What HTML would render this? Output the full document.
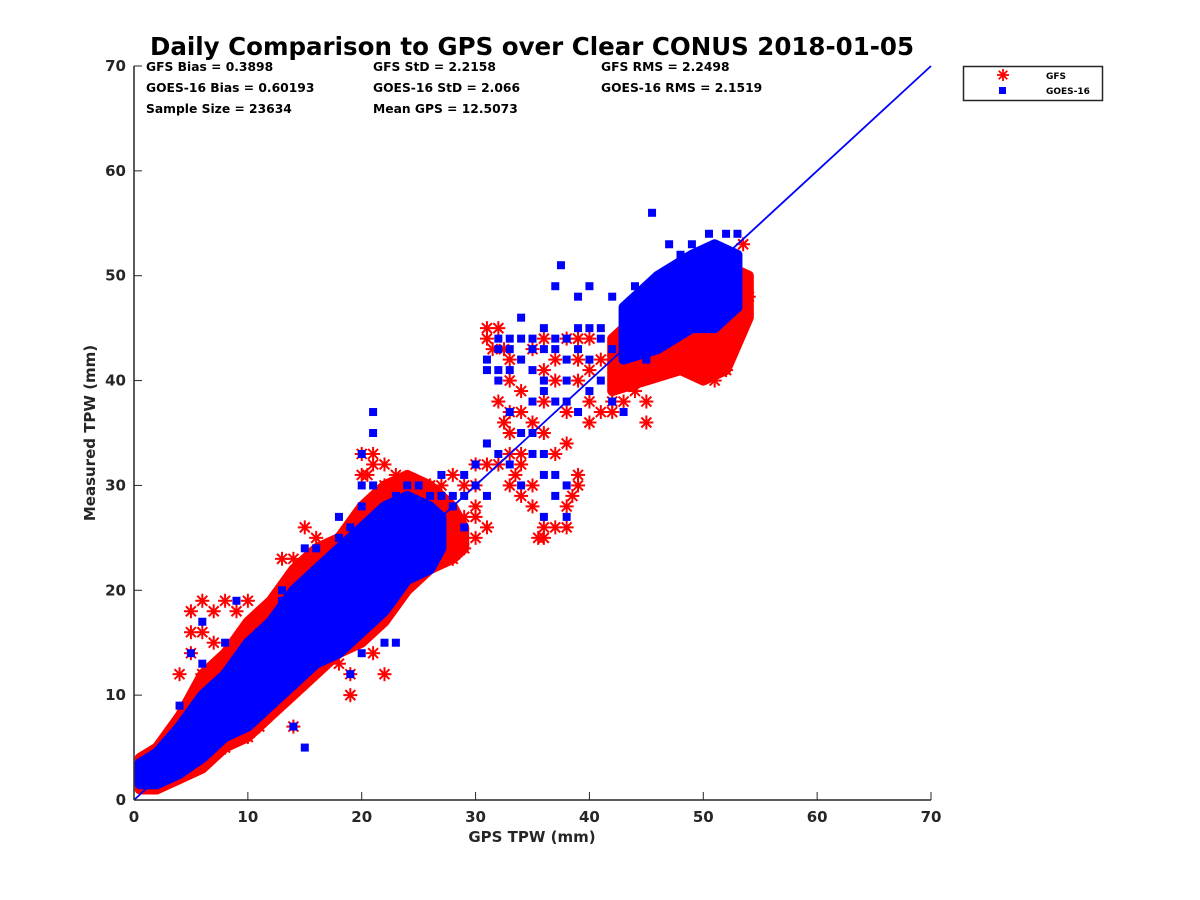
<!DOCTYPE html>
<html><head><meta charset="utf-8"><style>
html,body{margin:0;padding:0;background:#fff;}
svg{display:block;font-family:"DejaVu Sans","Liberation Sans",sans-serif;font-weight:bold;}
</style></head><body>
<svg id="chart" width="1200" height="900" viewBox="0 0 1200 900">
<text x="532" y="55" text-anchor="middle" font-size="24.5" fill="#000">Daily Comparison to GPS over Clear CONUS 2018-01-05</text>
<g id="plot"></g>
<g id="axes"></g>
<g font-size="12.3" fill="#000">
<text x="146" y="71">GFS Bias = 0.3898</text>
<text x="146" y="92">GOES-16 Bias = 0.60193</text>
<text x="146" y="113">Sample Size = 23634</text>
<text x="373" y="71">GFS StD = 2.2158</text>
<text x="373" y="92">GOES-16 StD = 2.066</text>
<text x="373" y="113">Mean GPS = 12.5073</text>
<text x="601" y="71">GFS RMS = 2.2498</text>
<text x="601" y="92">GOES-16 RMS = 2.1519</text>
</g>
<g>
<rect x="963.5" y="66.5" width="139" height="34" fill="#fff" stroke="#262626" stroke-width="1.5"/>
<g>
<g stroke="#f00" stroke-width="1.8" transform="translate(1003,75)"><line x1="-6" y1="0" x2="6" y2="0"/><line x1="0" y1="-6" x2="0" y2="6"/><line x1="-4.3" y1="-4.3" x2="4.3" y2="4.3"/><line x1="-4.3" y1="4.3" x2="4.3" y2="-4.3"/></g>
<text x="1046" y="79" font-size="9">GFS</text></g>
<g>
<rect x="999" y="87" width="7" height="7" fill="#00f"/>
<text x="1046" y="94" font-size="9">GOES-16</text></g>
</g>
</svg>
<script>
const xTicks=[0,10,20,30,40,50,60,70];
const yTicks=[0,10,20,30,40,50,60,70];
const redBand=[[0.5,1,4],[2,1,5],[4,2,8],[6,3,12],[8,5,14],[10,6,17],[12,8,19],[14,10,22],[16,12,24],[18,14,25],[20,15,28],[22,17,30],[24,20,31],[26,22,30],[28,23,28],[29,24,26]];
const blueBand=[[0.5,1.5,3.5],[2,1.5,4.5],[4,2.5,7],[6,4,10],[8,6,12],[10,7,15],[12,9,17],[14,11,20],[16,13,22],[18,14,24],[20,16,26],[22,18,28],[24,21,29],[26,22,28],[27,24,27]];
const redBand2=[[42,39,44],[45,40,47],[48,41,49],[50,40,50],[52,41,51],[54,46,50]];
const blueBand2=[[43,42,47],[46,43,50],[49,45,52],[51,45,53],[53,47,52]];
const gfsPts=[[31,45],[32,45],[31.5,43],[33,40],[33,35],[35,30],[36,25],[37,26],[38,28],[39,30],[38,37],[40,36],[42,38],[44,40],[45,36],[46,42],[48,45],[50,42],[51,40],[52,41],[53,45],[54,48],[53,50],[50,48],[48,48],[46,46],[44,45],[42,42],[40,41],[37,40],[36,44],[34,39],[33,37],[30,30],[31,26],[29,27],[27,27],[28,23],[35,43],[36,38],[38,34],[39,40],[41,42],[43,44],[47,47],[49,44],[51,44],[52,42],[53.5,53],[52,50],[50,50],[45,44],[38,44],[34,32],[32,32],[30,28],[26,26],[24,23],[22,32],[21,33],[20.5,31],[20,33],[15,26],[14,23],[13,23],[5,18],[6,19],[8,19],[9,18],[10,19],[12,18],[18,24],[22,12],[21,14],[19,12],[18,13],[17,15],[19,10],[14,7],[11,7],[8,5],[10,6],[30,27],[33,33],[12,12],[15,19],[25,28],[27,30],[29,30],[23,25],[26,30],[31,32],[4,12],[5,14],[6,10],[35.5,25],[50,41],[51.5,43],
[31,44],[32.5,43],[33,42],[32,38],[32.5,36],[33.5,31],[34,29],[35,28],[36,26],[38,26],[38.5,29],[39,31],[37,33],[36,35],[35,36],[34,37],[36,41],[37,42],[39,42],[40,38],[41,37],[42,37],[43,38],[44,39],[45,38],[46,41],[47,43],[49,43],[51,42],[52,44],[53,44],[53,48],[52,47],[50,46],[49,49],[47,49],[44,42],[40,44],[39,44],[30,25],[29,24],[27,25],[25,26],[24,29],[23,31],[22,30],[20,31],[21,32],[18,19],[17,19],[16,18],[20,21],[21,20],[15,16],[13,14],[11,12],[9,12],[7,15],[6,16],[5,16],[7,18],[16,25],[6,12],[30,32],[28,31],[33,30],[34,33]];
const goesPts=[[45.5,56],[50.5,54],[52,54],[53,54],[47,53],[48,52],[49,53],[51,52],[50,50],[48,50],[46,49],[44,49],[42,48],[43,46],[41,45],[44,47],[39,45],[38,44],[37,44],[36,45],[35,43],[33,44],[32,44],[34,46],[37.5,51],[37,49],[40,49],[39,48],[31,42],[32,41],[33,37],[34,35],[35,38],[36,40],[38,40],[40,42],[41,40],[42,38],[43,37],[45,42],[47,45],[49,47],[51,46],[53,47],[52,49],[50,46],[48,47],[46,47],[44,44],[35,33],[36,31],[37,29],[38,27],[36,27],[34,30],[31,34],[30,32],[29,31],[27,31],[28,29],[29,26],[25,27],[21,37],[21,35],[20,33],[15,24],[16,24],[20,30],[14,18],[13,19],[11,16],[9,19],[8,15],[6,17],[5,14],[6,13],[4,9],[14,7],[15,5],[19,12],[20,14],[22,15],[22,19],[23,15],[21,23],[12,16],[17,21],[24,26],[26,27],[28,28],[31,29],[3,4],[1,2],[2,3],[18,27],[13,20],
[32,43],[33,43],[34,44],[35,44],[36,43],[37,43],[38,42],[39,43],[40,45],[41,44],[42,43],[43,45],[44,46],[45,45],[46,44],[34,42],[33,41],[32,40],[31,41],[35,41],[36,39],[37,38],[38,38],[39,37],[40,39],[36,33],[35,35],[37,31],[38,30],[33,32],[32,33],[30,30],[29,29],[27,29],[26,29],[25,30],[24,30],[23,29],[22,27],[20,28],[19,26],[18,25],[21,30],[20,25],[22,24],[23,22],[24,22],[19,17],[20,18],[18,17],[16,16],[15,14],[10,10],[9,9],[8,8],[7,7],[12,13],[14,13]];
const NS="http://www.w3.org/2000/svg";
const X0=134,X1=931,Y0=800,Y1=66,MAX=70;
const sx=v=>X0+(X1-X0)*v/MAX, sy=v=>Y0-(Y0-Y1)*v/MAX;
const plot=document.getElementById('plot'), axes=document.getElementById('axes');
function mk(tag,attrs,parent){const e=document.createElementNS(NS,tag);for(const k in attrs)e.setAttribute(k,attrs[k]);parent.appendChild(e);return e;}
function band(arr,color,name){
  const top=arr.map(d=>sx(d[0])+','+sy(d[2]));
  const bot=arr.slice().reverse().map(d=>sx(d[0])+','+sy(d[1]));
  const p=mk('polygon',{points:top.concat(bot).join(' '),fill:color,stroke:color,'stroke-width':10,'stroke-linejoin':'round'},plot);
  
  
}
function star(x,y){
  const g=mk('g',{stroke:'#f00','stroke-width':2,transform:`translate(${sx(x)},${sy(y)})`},plot);
  
  
  mk('line',{x1:-7,y1:0,x2:7,y2:0},g);mk('line',{x1:0,y1:-7,x2:0,y2:7},g);
  mk('line',{x1:-5,y1:-5,x2:5,y2:5},g);mk('line',{x1:-5,y1:5,x2:5,y2:-5},g);
}
band(redBand,'#f00','gfs-dense-cloud');
band(redBand2,'#f00','gfs-upper-cloud');
gfsPts.forEach(d=>star(d[0],d[1]));
band(blueBand,'#00f','goes16-dense-cloud');
band(blueBand2,'#00f','goes16-upper-cloud');
goesPts.forEach(d=>{
  const r=mk('rect',{x:sx(d[0])-4,y:sy(d[1])-4,width:8,height:8,fill:'#00f'},plot);
  
  
});
const one=mk('line',{x1:sx(0),y1:sy(0),x2:sx(70),y2:sy(70),stroke:'#00f','stroke-width':1.8},plot);


const xa=mk('line',{x1:X0,y1:Y0,x2:X1,y2:Y0,stroke:'#262626','stroke-width':1.5},axes);


const ya=mk('line',{x1:X0,y1:Y0,x2:X0,y2:Y1,stroke:'#262626','stroke-width':1.5},axes);


xTicks.forEach(t=>{
  mk('line',{x1:sx(t),y1:Y0,x2:sx(t),y2:Y0-8,stroke:'#262626','stroke-width':1},axes);
  const tx=mk('text',{x:sx(t),y:Y0+22,'text-anchor':'middle','font-size':15,fill:'#262626'},axes);
  tx.textContent=t;
  
  
});
yTicks.forEach(t=>{
  mk('line',{x1:X0,y1:sy(t),x2:X0+8,y2:sy(t),stroke:'#262626','stroke-width':1},axes);
  const tx=mk('text',{x:X0-8,y:sy(t)+5,'text-anchor':'end','font-size':15,fill:'#262626'},axes);
  tx.textContent=t;
  
  
});
const xt=mk('text',{x:532,y:842,'text-anchor':'middle','font-size':15,fill:'#262626'},axes);
xt.textContent='GPS TPW (mm)';


const yt=mk('text',{x:0,y:0,'text-anchor':'middle','font-size':15,fill:'#262626',transform:'translate(95,433) rotate(-90)'},axes);
yt.textContent='Measured TPW (mm)';


</script>
</body></html>
